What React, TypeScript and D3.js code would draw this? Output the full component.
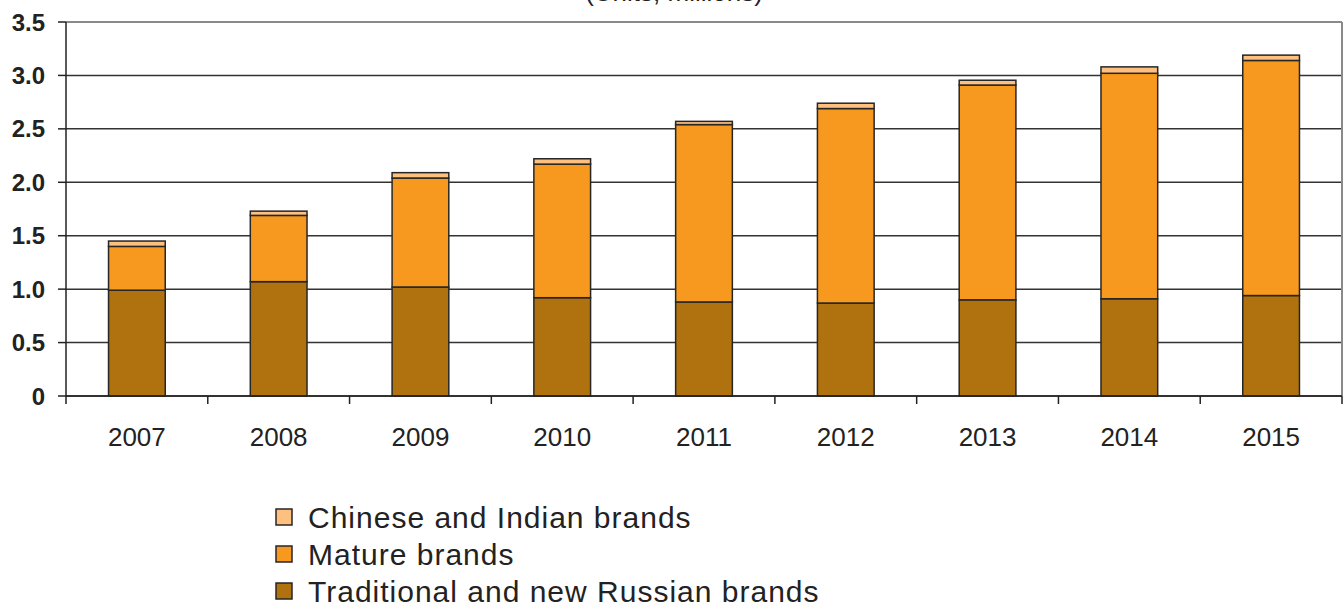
import React from "react";
import * as d3 from "d3";

const years = ["2007", "2008", "2009", "2010", "2011", "2012", "2013", "2014", "2015"];
const russian = [0.99, 1.07, 1.02, 0.92, 0.88, 0.87, 0.9, 0.91, 0.94];
const mature = [0.41, 0.62, 1.02, 1.25, 1.66, 1.82, 2.01, 2.11, 2.2];
const chinese = [0.05, 0.04, 0.05, 0.05, 0.03, 0.05, 0.045, 0.06, 0.05];
const yTicks = [0, 0.5, 1.0, 1.5, 2.0, 2.5, 3.0, 3.5];
const seriesNames = ["Chinese and Indian brands", "Mature brands", "Traditional and new Russian brands"];
const title = "(Units, millions)";

const W = 1344;
const H = 604;
const colors: Record<string, string> = {
  russian: "#B0720E",
  mature: "#F7991F",
  chinese: "#FDC07F",
};

export default function App() {
  const x0 = 66, x1 = 1342, yTop = 22, yBottom = 396;
  const x = d3.scaleBand<string>().domain(years).range([x0, x1]).paddingInner(0.6).paddingOuter(0.3);
  const xTickScale = d3.scaleBand<string>().domain(years).range([x0, x1]);
  const y = d3.scaleLinear().domain([0, 3.5]).range([yBottom, yTop]);

  const rows = years.map((yr, i) => ({ year: yr, russian: russian[i], mature: mature[i], chinese: chinese[i] }));
  const stack = d3.stack<any>().keys(["russian", "mature", "chinese"]);
  const series = stack(rows);

  const font = "'Liberation Sans', Arial, Helvetica, sans-serif";
  const legendKeys = ["chinese", "mature", "russian"];

  return (
    <svg width={W} height={H} style={{ position: "absolute", left: 0, top: 0, background: "#fff" }}>
      <text x={674} y={1} textAnchor="middle" fontFamily={font} fontSize={26} fill="#222">{title}</text>
      {/* gridlines */}
      {yTicks.map((t) => (
        <line key={"g" + t} x1={x0} x2={x1} y1={y(t)} y2={y(t)}
          stroke={t === 3.5 ? "#8a8a8a" : "#333"} strokeWidth={t === 3.5 ? 2 : 1.5} />
      ))}
      {/* right frame */}
      <line x1={x1} x2={x1} y1={y(3.5)} y2={y(0)} stroke="#8a8a8a" strokeWidth={2} />
      {/* bars */}
      {series.map((s) => (
        <g key={s.key}>
          {s.map((d, i) => (
            <rect key={i} x={x(years[i])} width={x.bandwidth()} y={y(d[1])} height={y(d[0]) - y(d[1])}
              fill={colors[s.key]} stroke="#262626" strokeWidth={1.5} />
          ))}
        </g>
      ))}
      {/* y axis */}
      <line x1={x0} x2={x0} y1={y(3.5)} y2={y(0) + 8} stroke="#222" strokeWidth={1.5} />
      {yTicks.map((t) => (
        <g key={"t" + t}>
          <line x1={x0 - 8} x2={x0} y1={y(t)} y2={y(t)} stroke="#222" strokeWidth={1.5} />
          <text x={45} y={y(t)} dy="0.36em" textAnchor="end" fontFamily={font} fontWeight="bold" fontSize={24} fill="#222">
            {t === 0 ? "0" : d3.format(".1f")(t)}
          </text>
        </g>
      ))}
      {/* x axis */}
      <line x1={x0} x2={x1} y1={y(0)} y2={y(0)} stroke="#222" strokeWidth={1.5} />
      {years.map((yr) => (
        <line key={"xt" + yr} x1={(xTickScale(yr) as number) + xTickScale.bandwidth()} x2={(xTickScale(yr) as number) + xTickScale.bandwidth()}
          y1={y(0)} y2={y(0) + 8} stroke="#222" strokeWidth={1.5} />
      ))}
      {years.map((yr) => (
        <text key={"xl" + yr} x={(xTickScale(yr) as number) + xTickScale.bandwidth() / 2} y={446} textAnchor="middle"
          fontFamily={font} fontSize={26} fill="#222">{yr}</text>
      ))}
      {/* legend */}
      {legendKeys.map((k, i) => (
        <g key={"lg" + k} transform={`translate(276, ${517 + i * 37})`}>
          <rect x={0} y={-8} width={16} height={16} fill={colors[k]} stroke="#262626" strokeWidth={1.5} />
          <text x={32} y={0} dy="0.36em" fontFamily={font} fontSize={30} letterSpacing={1} fill="#222">{seriesNames[i]}</text>
        </g>
      ))}
    </svg>
  );
}
